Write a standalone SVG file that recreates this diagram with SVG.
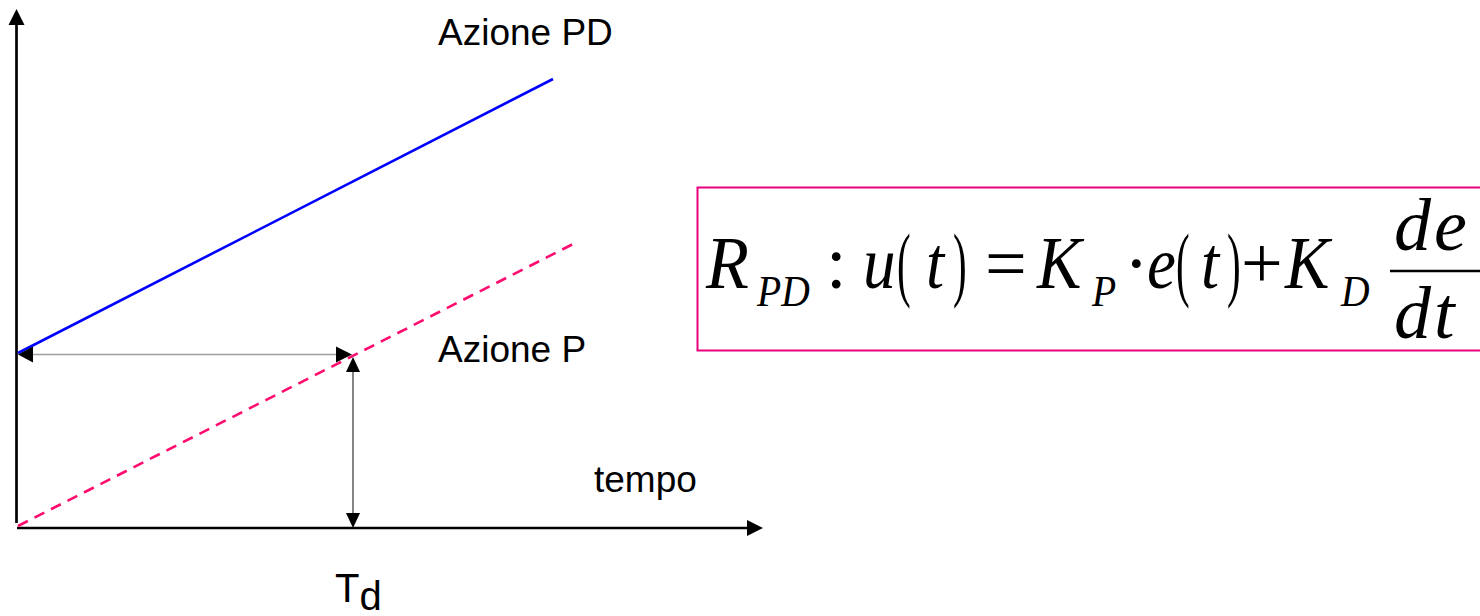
<svg xmlns="http://www.w3.org/2000/svg" width="1480" height="616" viewBox="0 0 1480 616">
<defs>
<style>
.lbl{font-family:"Liberation Sans",Arial,sans-serif;font-size:37px;fill:#000}
.m{font-family:"Liberation Serif","Times New Roman",serif;font-style:italic;font-size:74px;fill:#000}
.ms{font-family:"Liberation Serif","Times New Roman",serif;font-style:italic;font-size:44px;fill:#000}
.mu{font-family:"Liberation Serif","Times New Roman",serif;font-size:74px;fill:#000}
.mp{font-family:"Liberation Serif","Times New Roman",serif;font-size:82px;fill:#000}
.axis{stroke:#000;stroke-width:2.7;fill:none}
.ah{fill:#000;stroke:none}
</style>
</defs>
<g id="axes">
<line class="axis" x1="16.5" y1="523" x2="16.5" y2="22"/>
<polygon class="ah" points="16.5,9 8.5,25 24.5,25"/>
<line class="axis" x1="17" y1="528" x2="750" y2="528"/>
<polygon class="ah" points="763,528 747,520 747,536"/>
</g>
<g id="lines">
<line x1="18" y1="353" x2="553" y2="79" stroke="#0000ff" stroke-width="2.6"/>
<line x1="18" y1="526" x2="577" y2="242" stroke="#ff0d6e" stroke-width="2.6" stroke-dasharray="11,7.5"/>
</g>
<g id="connectors">
<line x1="30" y1="354.5" x2="338" y2="354.5" stroke="#a0a0a0" stroke-width="1.6"/>
<polygon class="ah" points="18,354.5 33,346.5 33,362.5"/>
<polygon class="ah" points="352,354.5 336,346.5 336,362.5"/>
<line x1="353" y1="370" x2="353" y2="515" stroke="#333" stroke-width="1.2"/>
<polygon class="ah" points="353,357 346,372 360,372"/>
<polygon class="ah" points="353,528 346,513 360,513"/>
</g>
<g id="labels">
<text class="lbl" x="438" y="45">Azione PD</text>
<text class="lbl" x="438" y="362">Azione P</text>
<text class="lbl" x="594" y="492">tempo</text>
<text class="lbl" x="335" y="602" style="font-size:40px">T<tspan dy="8">d</tspan></text>
</g>
<g id="formula">
<rect x="697.5" y="187.5" width="800" height="163" fill="none" stroke="#e6007e" stroke-width="2"/>
<text class="m" transform="translate(706,288) scale(0.95,1)">R</text>
<text class="ms" transform="translate(757,306) scale(0.9,1)">PD</text>
<text class="mu" x="826" y="288">:</text>
<text class="m" transform="translate(863,288) scale(0.88,1)">u</text>
<text class="mp" transform="translate(897,291) scale(0.5,1)">(</text>
<text class="m" transform="translate(926,288) scale(0.88,1)">t</text>
<text class="mp" transform="translate(953,291) scale(0.5,1)">)</text>
<text class="mu" x="985" y="288">=</text>
<text class="m" transform="translate(1037,288) scale(0.9,1)">K</text>
<text class="ms" transform="translate(1092,306) scale(0.9,1)">P</text>
<text class="mu" x="1124" y="288">·</text>
<text class="m" transform="translate(1147,288) scale(0.88,1)">e</text>
<text class="mp" transform="translate(1176,291) scale(0.5,1)">(</text>
<text class="m" transform="translate(1201,288) scale(0.88,1)">t</text>
<text class="mp" transform="translate(1227,291) scale(0.5,1)">)</text>
<text class="mu" x="1241" y="288">+</text>
<text class="m" transform="translate(1285,288) scale(0.9,1)">K</text>
<text class="ms" transform="translate(1341,306) scale(0.9,1)">D</text>
<text class="m" x="1394" y="250" letter-spacing="3">de</text>
<line x1="1390" y1="271" x2="1480" y2="271" stroke="#000" stroke-width="2.6"/>
<text class="m" x="1394" y="338" letter-spacing="3">dt</text>
</g>
</svg>
